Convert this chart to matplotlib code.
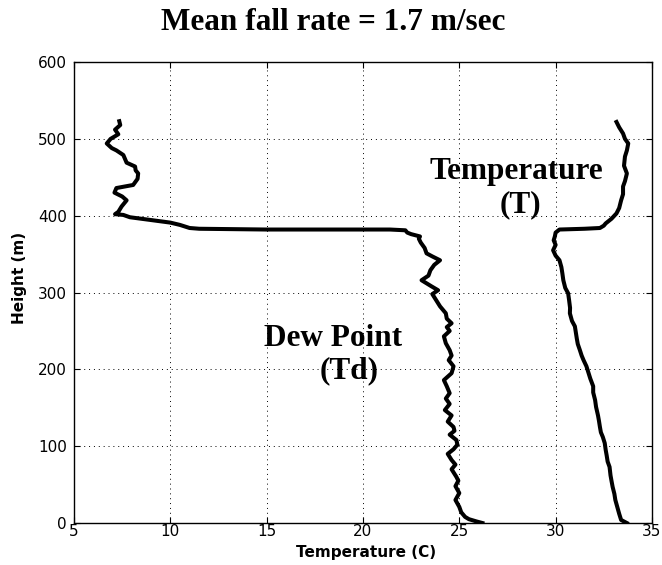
"""
Dew point / temperature profile of a falling sonde
"""
import matplotlib
matplotlib.use("Agg")
import matplotlib.pyplot as plt

# dew point (Td) profile: height (m) and temperature (C)
td_height = [0, 2, 5, 8, 14, 21, 30, 39, 48, 55, 60, 70, 76, 82, 90, 96, 102, 108,
             115, 120, 125, 132, 140, 147, 155, 162, 169, 178, 186, 195, 204, 212,
             218, 225, 234, 243, 250, 255, 260, 266, 273, 282, 290, 298, 303, 308,
             316, 322, 329, 336, 342, 347, 351, 358, 365, 370, 373, 376, 378, 381,
             382, 382, 383, 384, 388, 391, 395, 398, 401, 402, 405, 412, 420, 425,
             430, 436, 440, 448, 455, 459, 464, 469, 479, 485, 488, 494, 500, 506,
             512, 518, 523]
td_temp = [26.2, 25.9, 25.5, 25.3, 25.1, 25.0, 24.8, 25.0, 24.8, 24.95, 24.85, 24.6,
           24.8, 24.6, 24.4, 24.7, 24.9, 24.85, 24.5, 24.75, 24.7, 24.4, 24.6, 24.25,
           24.5, 24.3, 24.5, 24.35, 24.2, 24.6, 24.7, 24.45, 24.6, 24.5, 24.3, 24.2,
           24.5, 24.35, 24.6, 24.35, 24.3, 24.0, 23.8, 23.6, 23.9, 23.56, 23.04, 23.4,
           23.5, 23.7, 24.0, 23.6, 23.3, 23.2, 23.0, 22.9, 22.96, 22.5, 22.3, 22.2,
           21.4, 15.0, 11.5, 11.0, 10.5, 10.0, 8.8, 7.9, 7.56, 7.13, 7.3, 7.47, 7.73,
           7.5, 7.1, 7.2, 8.07, 8.3, 8.33, 8.2, 8.17, 7.73, 7.56, 7.2, 6.96, 6.7, 6.9,
           7.3, 7.13, 7.4, 7.35]

# temperature (T) profile
t_height = [0, 4, 12, 21, 30, 38, 47, 55, 62, 73, 80, 88, 95, 104, 112, 118, 125,
            133, 140, 151, 160, 170, 178, 188, 196, 204, 212, 218, 225, 233, 240,
            248, 256, 263, 273, 280, 290, 299, 306, 316, 325, 333, 342, 348, 355,
            362, 368, 373, 378, 382, 383, 384, 387, 390, 396, 403, 410, 420, 428,
            438, 445, 455, 465, 477, 485, 494, 500, 507, 515, 522]
t_temp = [33.7, 33.4, 33.3, 33.2, 33.1, 33.05, 32.96, 32.9, 32.85, 32.8, 32.7, 32.65,
          32.6, 32.55, 32.45, 32.35, 32.3, 32.25, 32.2, 32.1, 32.05, 31.95, 31.95,
          31.8, 31.7, 31.6, 31.45, 31.35, 31.26, 31.15, 31.1, 31.05, 31.0, 30.85,
          30.74, 30.75, 30.7, 30.65, 30.5, 30.4, 30.35, 30.3, 30.2, 30.0, 29.87,
          30.0, 29.9, 29.96, 30.0, 30.2, 31.5, 32.3, 32.5, 32.6, 32.9, 33.16, 33.3,
          33.4, 33.5, 33.5, 33.6, 33.7, 33.55, 33.6, 33.7, 33.77, 33.6, 33.5, 33.3,
          33.16]

xticks = [5, 10, 15, 20, 25, 30, 35]
yticks = [0, 100, 200, 300, 400, 500, 600]

fig = plt.figure(figsize=(6.62, 5.65), dpi=100)
ax = fig.add_axes([0.1118, 0.0743, 0.873, 0.8159])

ax.plot(td_temp, td_height, color="black", lw=2.9, solid_joinstyle="round")
ax.plot(t_temp, t_height, color="black", lw=2.9, solid_joinstyle="round")

ax.set_xlim(5, 35)
ax.set_ylim(0, 600)
ax.set_xticks(xticks)
ax.set_yticks(yticks)
ax.tick_params(direction="in", top=True, right=True, length=4, width=0.8,
               labelsize=11)
ax.tick_params(axis="x", pad=1)
ax.tick_params(axis="y", pad=5)
ax.grid(True, color="black", linestyle=(0, (1, 4)), linewidth=0.7)
for s in ax.spines.values():
    s.set_linewidth(1.0)

serif = ["Liberation Serif", "DejaVu Serif"]
ax.text(27.94, 457, "Temperature", family=serif, weight="bold", fontsize=22.5,
        ha="center", va="center")
ax.text(28.15, 414, "(T)", family=serif, weight="bold", fontsize=22.5,
        ha="center", va="center")
ax.text(18.44, 240, "Dew Point", family=serif, weight="bold", fontsize=22.5,
        ha="center", va="center")
ax.text(19.3, 198, "(Td)", family=serif, weight="bold", fontsize=22.5,
        ha="center", va="center")

fig.text(0.504, 0.961, "Mean fall rate = 1.7 m/sec", family=serif, weight="bold",
         fontsize=22.5, ha="center", va="center")
fig.text(0.553, 0.022, "Temperature (C)", weight="bold", fontsize=11,
         ha="center", va="center")
fig.text(0.03, 1 - 278 / 565, "Height (m)", weight="bold", fontsize=11,
         rotation=90, ha="center", va="center")

plt.savefig("out.png", dpi=100)
